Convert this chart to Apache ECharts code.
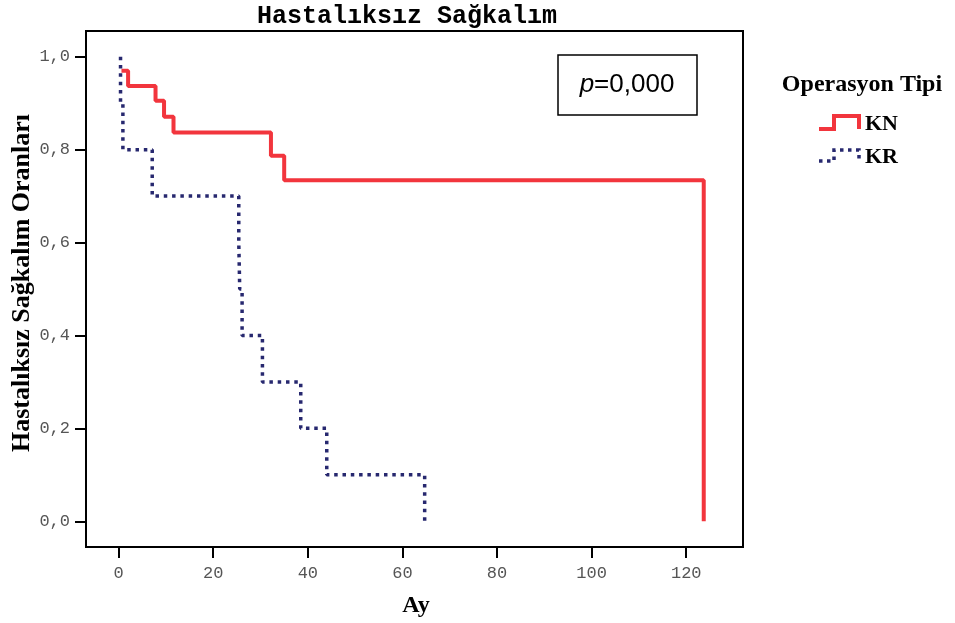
<!DOCTYPE html>
<html>
<head>
<meta charset="utf-8">
<script src="https://cdn.jsdelivr.net/npm/echarts@6/dist/echarts.min.js"></script>
<style>html,body{margin:0;padding:0;background:#fff;}#chart{width:955px;height:623px;}</style>
</head>
<body>
<div id="chart"></div>
<script>
// Kaplan-Meier step data (time in months, survival proportion)
const knTimes = [0.6, 2.0, 7.8, 9.6, 11.6, 32.2, 35.0, 123.7];
const knSurv  = [0.970, 0.937, 0.905, 0.871, 0.837, 0.787, 0.734, 0.0];
const krTimes = [0.4, 0.4, 0.9, 7.1, 25.4, 25.6, 26.1, 30.4, 38.5, 44.0, 64.7];
const krSurv  = [1.0, 0.9, 0.8, 0.7, 0.6, 0.5, 0.4, 0.3, 0.2, 0.1, 0.0];
const xTicks = [0, 20, 40, 60, 80, 100, 120];
const yTicks = [0, 0.2, 0.4, 0.6, 0.8, 1.0];
const seriesNames = ['KN', 'KR'];
const titleText = 'Hastalıksız Sağkalım';
const xName = 'Ay';
const yName = 'Hastalıksız Sağkalım Oranları';
const legendTitle = 'Operasyon Tipi';
const pText = '0,000';

const RED = '#f2353d', BLUE = '#27286f';
const chart = echarts.init(document.getElementById('chart'), null, {renderer: 'canvas'});
const zip = (a, b) => a.map((v, i) => [v, b[i]]);

chart.setOption({
  animation: false,
  backgroundColor: '#fff',
  grid: {left: 86, right: 212, top: 31, bottom: 76, show: true, borderColor: '#000', borderWidth: 2, containLabel: false},
  xAxis: {
    type: 'value', min: -6.9, max: 132,
    splitLine: {show: false},
    axisLine: {show: true, onZero: false, lineStyle: {color: '#000', width: 2}},
    axisTick: {show: true, length: 11, lineStyle: {color: '#000', width: 2}, customValues: xTicks},
    axisLabel: {customValues: xTicks, margin: 18, color: '#555', fontFamily: 'Liberation Mono', fontSize: 17},
  },
  yAxis: {
    type: 'value', min: -0.0554, max: 1.0554,
    splitLine: {show: false},
    axisLine: {show: true, onZero: false, lineStyle: {color: '#000', width: 2}},
    axisTick: {show: true, length: 11, lineStyle: {color: '#000', width: 2}, customValues: yTicks},
    axisLabel: {customValues: yTicks, margin: 16, color: '#555', fontFamily: 'Liberation Mono', fontSize: 17,
      formatter: v => v.toFixed(1).replace('.', ',')},
  },
  series: [
    {name: seriesNames[0], type: 'line', step: 'end', data: zip(knTimes, knSurv), symbol: 'none',
     lineStyle: {color: RED, width: 4}, z: 2},
    {name: seriesNames[1], type: 'line', step: 'end', data: zip(krTimes, krSurv), symbol: 'none',
     lineStyle: {color: BLUE, width: 3.5, type: [3.5, 4.8], cap: 'butt'}, z: 3},
  ],
  graphic: [
    {type: 'text', x: 407, y: 17, style: {text: titleText, fontFamily: 'Liberation Mono', fontWeight: 'bold', fontSize: 25, fill: '#000', align: 'center', verticalAlign: 'middle'}},
    {type: 'text', x: 416, y: 606, style: {text: xName, fontFamily: 'Liberation Serif', fontWeight: 'bold', fontSize: 24, fill: '#000', align: 'center', verticalAlign: 'middle'}},
    {type: 'text', x: 22, y: 283, rotation: Math.PI / 2, style: {text: yName, fontFamily: 'Liberation Serif', fontWeight: 'bold', fontSize: 26, fill: '#000', align: 'center', verticalAlign: 'middle'}},
    {type: 'rect', shape: {x: 558, y: 55, width: 139, height: 60}, style: {fill: '#fff', stroke: '#000', lineWidth: 1.5}},
    {type: 'text', x: 627, y: 85, style: {
      text: '{i|p}{n|=' + pText + '}', align: 'center', verticalAlign: 'middle',
      rich: {i: {fontFamily: 'Liberation Sans', fontStyle: 'italic', fontSize: 26, fill: '#000'},
             n: {fontFamily: 'Liberation Sans', fontSize: 26, fill: '#000'}}}},
    {type: 'text', x: 862, y: 85, style: {text: legendTitle, fontFamily: 'Liberation Serif', fontWeight: 'bold', fontSize: 24, fill: '#000', align: 'center', verticalAlign: 'middle'}},
    {type: 'polyline', shape: {points: [[819, 129], [834, 129], [834, 116], [859, 116], [859, 129]]}, style: {stroke: RED, lineWidth: 4, fill: null}},
    {type: 'text', x: 865, y: 124, style: {text: seriesNames[0], fontFamily: 'Liberation Serif', fontWeight: 'bold', fontSize: 22, fill: '#000', align: 'left', verticalAlign: 'middle'}},
    {type: 'polyline', shape: {points: [[819, 161], [834, 161], [834, 150], [859, 150], [859, 161]]}, style: {stroke: BLUE, lineWidth: 3.5, lineDash: [3.5, 4.5], fill: null}},
    {type: 'text', x: 865, y: 157, style: {text: seriesNames[1], fontFamily: 'Liberation Serif', fontWeight: 'bold', fontSize: 22, fill: '#000', align: 'left', verticalAlign: 'middle'}},
  ]
});
</script>
</body>
</html>
